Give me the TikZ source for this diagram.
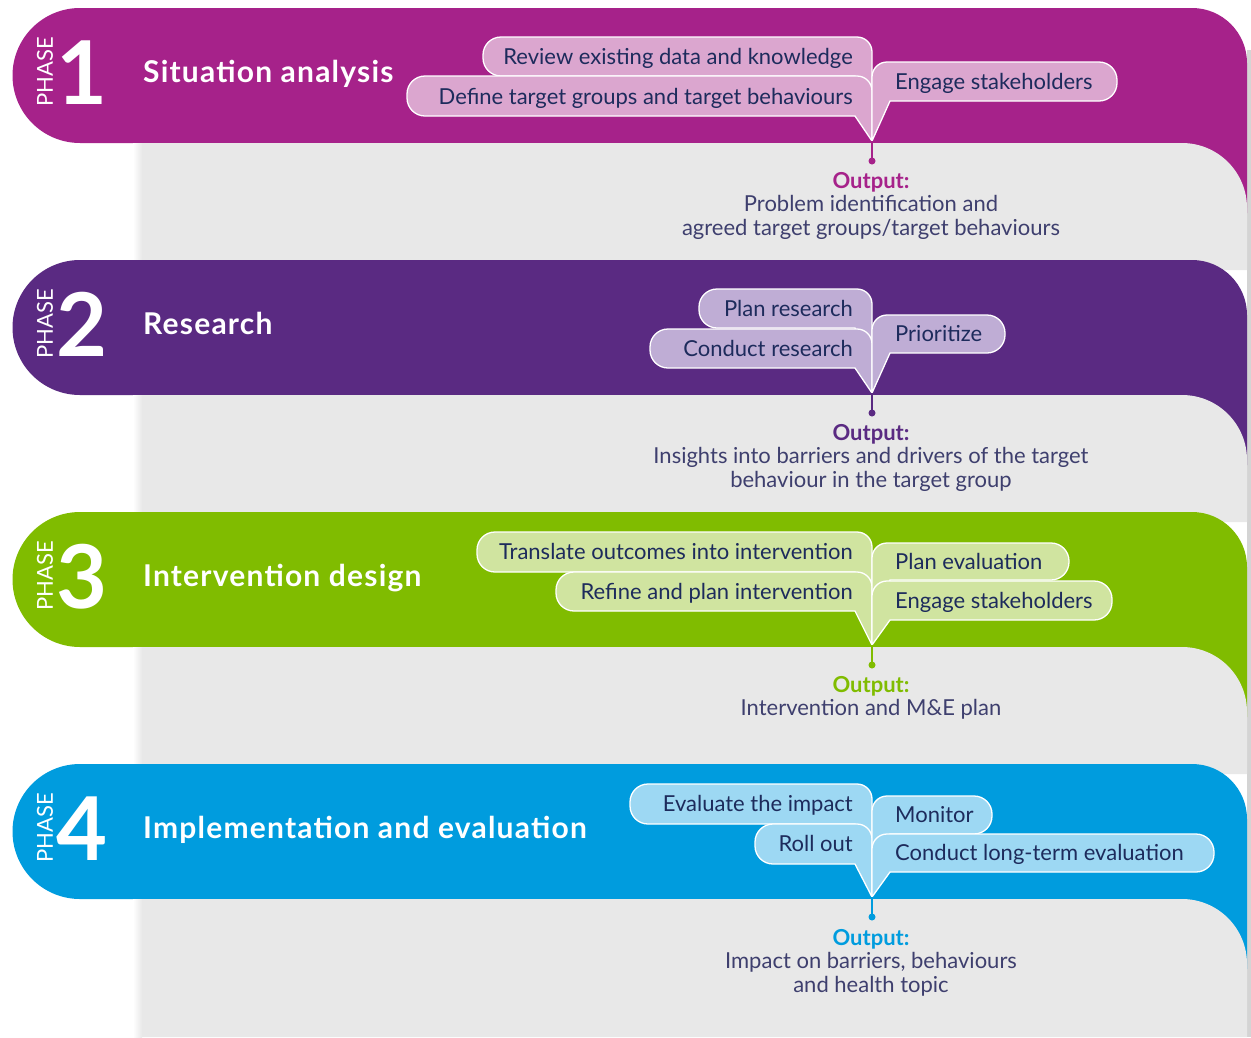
\documentclass[tikz,border=0pt]{standalone}
\usepackage{fontspec}
\setmainfont{Lato}
\newfontfamily\titlefont[LetterSpace=4]{Lato}
\definecolor{phaseone}{HTML}{A6228A}
\definecolor{phasetwo}{HTML}{5A2A82}
\definecolor{phasethree}{HTML}{80BC00}
\definecolor{phasefour}{HTML}{009CDE}
\definecolor{bubone}{HTML}{DBA6CF}
\definecolor{bubtwo}{HTML}{BFADD5}
\definecolor{bubthree}{HTML}{D0E4A0}
\definecolor{bubfour}{HTML}{9DD8F3}
\definecolor{bgpanel}{HTML}{E8E8E8}
\definecolor{navy}{HTML}{1D2B5C}
\definecolor{outgrey}{HTML}{3E3F6E}

\begin{document}
\begin{tikzpicture}[x=1pt,y=-1pt,
        bubble/.style={draw=white,line width=1.3pt},
        btext/.style={font=\fontsize{22}{24}\selectfont,text=navy,inner sep=0pt},
        title/.style={font=\titlefont\fontsize{30}{32}\selectfont\bfseries,text=white,anchor=base west,inner sep=0pt},
        num/.style={font=\fontsize{88}{90}\selectfont\bfseries,text=white,anchor=base,inner sep=0pt},
        phaselbl/.style={font=\fontsize{22}{24}\selectfont,text=white,rotate=90,inner sep=0pt},
        outhead/.style={font=\fontsize{22}{24}\selectfont\bfseries,anchor=base,inner sep=0pt},
        outtext/.style={font=\fontsize{22}{24}\selectfont,text=outgrey,anchor=base,inner sep=0pt}]
        \useasboundingbox (0,0) rectangle (1251,1037);
        \fill[black!17] (1247,50) rectangle (1251,1037);

        % Phase 1
        \fill[phaseone] (80,143) arc (90:270:67.5) -- (1192,8) arc (270:360:55) -- (1247,213) -- (1180,213) -- (1180,143) -- cycle;
        \fill[bgpanel] (142,143) -- (1182,143) arc (270:360:65) -- (1247,270) -- (142,270) -- cycle;
        \shade[left color=white,right color=bgpanel] (133,143) rectangle (142,270);
        \node[phaselbl] (ph1) at (45,72) {PHASE};
        \node[num] (n1) at (82,104) {1};
        \node[title] (t1) at (143,82) {Situation analysis};

        \coordinate (tip1) at (872,141);
        \coordinate (dot1) at (872,161);
        \filldraw[bubble,fill=bubone] (tip1) -- (855,76) -- (501,76) arc (90:180:18) -- (483,55) arc (180:270:18) -- (857,37) arc (270:360:15) -- cycle;
        \filldraw[bubble,fill=bubone] (tip1) -- (855,116) -- (425,116) arc (90:180:18) -- (407,94) arc (180:270:18) -- (857,76) arc (270:360:15) -- cycle;
        \filldraw[bubble,fill=bubone] (tip1) -- (872,77) arc (180:270:15) -- (1099,62) arc (270:360:18) -- (1117,83) arc (0:90:18) -- (890,101) -- cycle;
        \node[btext,anchor=base east] (a11) at (853,64) {Review existing data and knowledge};
        \node[btext,anchor=base east] (a12) at (853,104) {Define target groups and target behaviours};
        \node[btext,anchor=base west] (a13) at (895,89) {Engage stakeholders};
        \draw[phaseone,line width=1.2pt] (tip1) -- (dot1);
        \fill[phaseone] (dot1) circle (3.5);
        \node[outhead,text=phaseone] (o1) at (871,188) {Output:};
        \node[outtext] (o1a) at (871,211) {Problem identification and};
        \node[outtext] (o1b) at (871,235) {agreed target groups/target behaviours};

        % Phase 2
        \fill[phasetwo] (80,395) arc (90:270:67.5) -- (1192,260) arc (270:360:55) -- (1247,465) -- (1180,465) -- (1180,395) -- cycle;
        \fill[bgpanel] (142,395) -- (1182,395) arc (270:360:65) -- (1247,522) -- (142,522) -- cycle;
        \shade[left color=white,right color=bgpanel] (133,395) rectangle (142,522);
        \node[phaselbl] (ph2) at (45,324) {PHASE};
        \node[num] (n2) at (82,356) {2};
        \node[title] (t2) at (143,334) {Research};

        \coordinate (tip2) at (872,393);
        \coordinate (dot2) at (872,413);
        \filldraw[bubble,fill=bubtwo] (tip2) -- (855,328) -- (717,328) arc (90:180:18) -- (699,307) arc (180:270:18) -- (857,289) arc (270:360:15) -- cycle;
        \filldraw[bubble,fill=bubtwo] (tip2) -- (855,368) -- (668,368) arc (90:180:18) -- (650,347) arc (180:270:18) -- (857,329) arc (270:360:15) -- cycle;
        \filldraw[bubble,fill=bubtwo] (tip2) -- (872,330) arc (180:270:15) -- (987,315) arc (270:360:18) -- (1005,335) arc (0:90:18) -- (890,353) -- cycle;
        \node[btext,anchor=base east] (a21) at (853,316) {Plan research};
        \node[btext,anchor=base east] (a22) at (853,356) {Conduct research};
        \node[btext,anchor=base west] (a23) at (895,341) {Prioritize};
        \draw[phasetwo,line width=1.2pt] (tip2) -- (dot2);
        \fill[phasetwo] (dot2) circle (3.5);
        \node[outhead,text=phasetwo] (o2) at (871,440) {Output:};
        \node[outtext] (o2a) at (871,463) {Insights into barriers and drivers of the target};
        \node[outtext] (o2b) at (871,487) {behaviour in the target group};

        % Phase 3
        \fill[phasethree] (80,647) arc (90:270:67.5) -- (1192,512) arc (270:360:55) -- (1247,717) -- (1180,717) -- (1180,647) -- cycle;
        \fill[bgpanel] (142,647) -- (1182,647) arc (270:360:65) -- (1247,774) -- (142,774) -- cycle;
        \shade[left color=white,right color=bgpanel] (133,647) rectangle (142,774);
        \node[phaselbl] (ph3) at (45,576) {PHASE};
        \node[num] (n3) at (82,608) {3};
        \node[title] (t3) at (143,586) {Intervention design};

        \coordinate (tip3) at (872,645);
        \coordinate (dot3) at (872,665);
        \filldraw[bubble,fill=bubthree] (tip3) -- (855,572) -- (495,572) arc (90:180:18) -- (477,550) arc (180:270:18) -- (857,532) arc (270:360:15) -- cycle;
        \filldraw[bubble,fill=bubthree] (tip3) -- (855,611) -- (574,611) arc (90:180:18) -- (556,590) arc (180:270:18) -- (857,572) arc (270:360:15) -- cycle;
        \filldraw[bubble,fill=bubthree] (tip3) -- (872,558) arc (180:270:15) -- (1051,543) arc (270:360:18) -- (1069,562) arc (0:90:18) -- (890,580) -- cycle;
        \filldraw[bubble,fill=bubthree] (tip3) -- (872,596) arc (180:270:15) -- (1094,581) arc (270:360:18) -- (1112,602) arc (0:90:18) -- (890,620) -- cycle;
        \node[btext,anchor=base east] (a31) at (853,559) {Translate outcomes into intervention};
        \node[btext,anchor=base east] (a32) at (853,599) {Refine and plan intervention};
        \node[btext,anchor=base west] (a33) at (895,569) {Plan evaluation};
        \node[btext,anchor=base west] (a34) at (895,608) {Engage stakeholders};
        \draw[phasethree,line width=1.2pt] (tip3) -- (dot3);
        \fill[phasethree] (dot3) circle (3.5);
        \node[outhead,text=phasethree] (o3) at (871,692) {Output:};
        \node[outtext] (o3a) at (871,715) {Intervention and M\&E plan};

        % Phase 4
        \fill[phasefour] (80,899) arc (90:270:67.5) -- (1192,764) arc (270:360:55) -- (1247,969) -- (1180,969) -- (1180,899) -- cycle;
        \fill[bgpanel] (142,899) -- (1182,899) arc (270:360:65) -- (1247,1037) -- (142,1037) -- cycle;
        \shade[left color=white,right color=bgpanel] (133,899) rectangle (142,1037);
        \node[phaselbl] (ph4) at (45,828) {PHASE};
        \node[num] (n4) at (82,860) {4};
        \node[title] (t4) at (143,838) {Implementation and evaluation};

        \coordinate (tip4) at (872,897);
        \coordinate (dot4) at (872,917);
        \filldraw[bubble,fill=bubfour] (tip4) -- (855,824) -- (648,824) arc (90:180:18) -- (630,802) arc (180:270:18) -- (857,784) arc (270:360:15) -- cycle;
        \filldraw[bubble,fill=bubfour] (tip4) -- (855,864) -- (773,864) arc (90:180:18) -- (755,842) arc (180:270:18) -- (857,824) arc (270:360:15) -- cycle;
        \filldraw[bubble,fill=bubfour] (tip4) -- (872,811) arc (180:270:15) -- (974,796) arc (270:360:18) -- (992,816) arc (0:90:18) -- (890,834) -- cycle;
        \filldraw[bubble,fill=bubfour] (tip4) -- (872,849) arc (180:270:15) -- (1196,834) arc (270:360:18) -- (1214,854) arc (0:90:18) -- (890,872) -- cycle;
        \node[btext,anchor=base east] (a41) at (853,811) {Evaluate the impact};
        \node[btext,anchor=base east] (a42) at (853,851) {Roll out};
        \node[btext,anchor=base west] (a43) at (895,822) {Monitor};
        \node[btext,anchor=base west] (a44) at (895,860) {Conduct long-term evaluation};
        \draw[phasefour,line width=1.2pt] (tip4) -- (dot4);
        \fill[phasefour] (dot4) circle (3.5);
        \node[outhead,text=phasefour] (o4) at (871,945) {Output:};
        \node[outtext] (o4a) at (871,968) {Impact on barriers, behaviours};
        \node[outtext] (o4b) at (871,992) {and health topic};
    \end{tikzpicture}
\end{document}
